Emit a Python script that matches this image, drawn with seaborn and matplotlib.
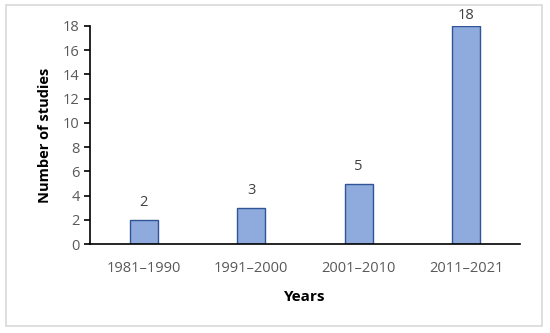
import matplotlib
matplotlib.use("Agg")
import matplotlib.pyplot as plt
import seaborn as sns
import pandas as pd
from matplotlib.patches import Rectangle

# data
periods = ['1981–1990', '1991–2000', '2001–2010', '2011–2021']
studies = [2, 3, 5, 18]
y_ticks = [0, 2, 4, 6, 8, 10, 12, 14, 16, 18]

sns.set_style('white')
plt.rcParams['font.family'] = ['Open Sans', 'DejaVu Sans']

df = pd.DataFrame({'Years': periods, 'Number of studies': studies})

fig = plt.figure(figsize=(5.5, 3.33), dpi=100)
ax = fig.add_axes([0.164, 0.267, 0.781, 0.655])

sns.barplot(data=df, x='Years', y='Number of studies', ax=ax,
            color='#8FAADC', edgecolor='#2F5597', linewidth=1.0,
            width=0.26, saturation=1)

ax.set_xlim(-0.5, 3.5)
ax.set_ylim(0, 18)
ax.set_yticks(y_ticks)

# value labels; the tallest one is squeezed against the top like in the original
for i, v in enumerate(studies):
    ax.text(i, min(v + 0.8, 18.25), str(v), ha='center', va='bottom',
            fontsize=10.5, color='#404040')

for side in ['top', 'right']:
    ax.spines[side].set_visible(False)
for side in ['left', 'bottom']:
    ax.spines[side].set_color('black')
    ax.spines[side].set_linewidth(1.2)

ax.tick_params(axis='y', direction='out', length=4, width=1.2,
               colors='black', labelcolor='#595959', labelsize=10.5, left=True)
ax.tick_params(axis='x', length=0, labelcolor='#595959', labelsize=10.5, pad=12)

ax.set_xlabel('Years', fontsize=11, fontweight='bold', color='black', labelpad=10)
ax.set_ylabel('Number of studies', fontsize=10.5, fontweight='bold', color='black', labelpad=8)

# light grey frame around the whole chart
fig.patches.append(Rectangle((0.01, 0.02), 0.975, 0.965, transform=fig.transFigure,
                             fill=False, edgecolor='#D9D9D9', linewidth=1.2))

fig.savefig('out.png', dpi=100)
